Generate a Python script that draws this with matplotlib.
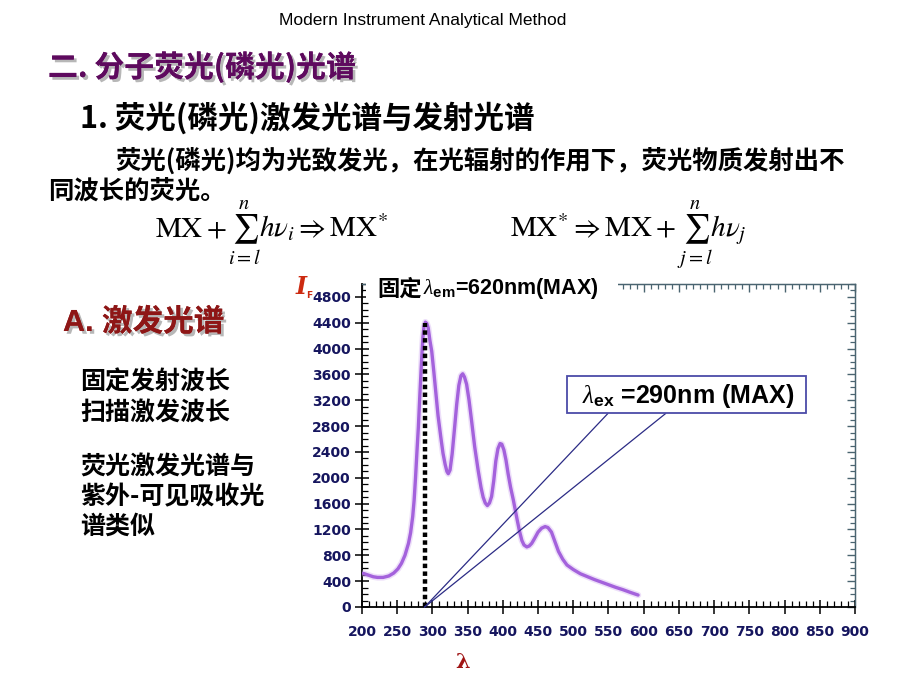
import matplotlib
matplotlib.use('Agg')
import matplotlib.pyplot as plt
import matplotlib.patheffects as pe
from matplotlib.patches import Rectangle
from matplotlib.ticker import MultipleLocator

# ---------------- data ----------------
wavelength = [202, 210, 216, 222, 230, 238, 245, 251, 256, 261, 266, 269, 272, 274,
              276, 278, 280, 282, 283.5, 285, 286.5, 288, 290, 292, 294, 296.5, 299,
              302, 305, 308, 312, 315, 318, 320.5, 322.5, 325, 328, 331, 334.5, 337.5,
              340.5, 343, 345.5, 348.5, 352, 355.5, 360, 365, 369, 372, 375, 378, 381,
              384, 387, 390, 393, 396, 398.5, 401.5, 404.5, 407.5, 411, 415, 418,
              420.5, 423.5, 427, 430, 434, 437.5, 441, 445, 450, 455, 460, 464, 469,
              474, 479, 485, 491, 500, 510, 520, 530, 540, 550, 560, 570, 580, 592]
intensity = [520, 490, 468, 458, 458, 480, 525, 590, 675, 800, 985, 1150, 1400, 1650,
             2000, 2400, 2780, 3250, 3580, 3900, 4180, 4340, 4410, 4390, 4320, 4120, 3960,
             3640, 3300, 2960, 2620, 2380, 2210, 2100, 2063, 2120, 2370, 2720, 3140, 3430,
             3580, 3610, 3560, 3450, 3200, 2890, 2480, 2110, 1850, 1700, 1610, 1570, 1610,
             1710, 1950, 2260, 2450, 2530, 2520, 2430, 2270, 2060, 1850, 1650, 1480,
             1340, 1180, 1030, 960, 930, 945, 985, 1060, 1160, 1220, 1245, 1230, 1160,
             1010, 860, 740, 650, 580, 515, 470, 425, 385, 345, 305, 270, 230, 185]
x_ticks = list(range(200, 901, 50))
y_ticks = list(range(0, 4801, 400))
ex_max_wl = 290
ex_max_int = 4400

W, H = 920, 690

plt.rcParams['mathtext.fontset'] = 'custom'
plt.rcParams['mathtext.rm'] = 'Liberation Sans:bold'
plt.rcParams['mathtext.it'] = 'Liberation Serif:italic'
plt.rcParams['mathtext.bf'] = 'Liberation Sans:bold'

CJK = ['Noto Sans CJK SC', 'DejaVu Sans']
MIX = ['Liberation Sans', 'Noto Sans CJK SC', 'DejaVu Sans']

fig = plt.figure(figsize=(W / 100, H / 100), dpi=100)
fig.patch.set_facecolor('white')


def fx(px):
    return px / W


def fy(py):
    return 1 - py / H


# ---------------- chart ----------------
ax = fig.add_axes([fx(362), fy(607), (855 - 362) / W, (607 - 284) / H])
ax.set_xlim(200, 900)
ax.set_ylim(0, 5000)

ax.plot(wavelength, intensity, color='#d2b0f2', lw=4.6, alpha=0.4,
        solid_capstyle='round', zorder=3)
ax.plot(wavelength, intensity, color='#a462dc', lw=2.4, solid_capstyle='round',
        zorder=4)
ax.plot([ex_max_wl, ex_max_wl], [0, ex_max_int], color='black', lw=3.2,
        linestyle=(0, (1, 0.75)), dash_capstyle='butt', zorder=5)

ax.set_xticks(x_ticks)
ax.set_yticks(y_ticks)
ax.xaxis.set_minor_locator(MultipleLocator(10))
ax.yaxis.set_minor_locator(MultipleLocator(100))
navy = '#15155e'
ax.tick_params(axis='both', which='major', direction='inout', length=10, width=1.1,
               colors='black', labelcolor=navy, labelsize=10, pad=3)
ax.tick_params(axis='both', which='minor', direction='in', length=4, width=0.9,
               colors='black')
for lab in ax.get_xticklabels() + ax.get_yticklabels():
    lab.set_fontfamily('DejaVu Sans')
    lab.set_fontweight('bold')
ax.tick_params(axis='x', pad=8)

for s in ['left', 'bottom']:
    ax.spines[s].set_linewidth(1.3)
    ax.spines[s].set_color('black')
for s in ['top', 'right']:
    ax.spines[s].set_linewidth(1.0)
    ax.spines[s].set_color('#4a6470')

sec_x = ax.secondary_xaxis('top')
sec_x.set_xticks(x_ticks)
sec_x.xaxis.set_minor_locator(MultipleLocator(10))
sec_x.tick_params(which='major', direction='in', length=6, width=1.0,
                  colors='#4a6470', labeltop=False)
sec_x.tick_params(which='minor', direction='in', length=3.5, width=0.9,
                  colors='#4a6470')
sec_x.spines['top'].set_color('#4a6470')
sec_y = ax.secondary_yaxis('right')
sec_y.set_yticks(y_ticks)
sec_y.yaxis.set_minor_locator(MultipleLocator(100))
sec_y.tick_params(which='major', direction='in', length=6, width=1.0,
                  colors='#4a6470', labelright=False)
sec_y.tick_params(which='minor', direction='in', length=3.5, width=0.9,
                  colors='#4a6470')
sec_y.spines['right'].set_color('#4a6470')

# annotation lines to the label box
for tx in (549, 631):
    ax.plot([ex_max_wl - 1, tx], [0, 2994], color='#2b2b85', lw=0.9, zorder=6,
            clip_on=False)

# white patch behind the top-left label (hides top spine there)
fig.patches.append(Rectangle((fx(366), fy(301)), (618 - 366) / W, 26 / H,
                             transform=fig.transFigure, facecolor='white',
                             edgecolor='none', zorder=2))
fig.text(fx(377), fy(289), '固定', family=CJK, fontweight='bold', fontsize=16,
         color='black', va='center', ha='left', zorder=3)
fig.text(fx(423), fy(289), '$\\lambda_{\\mathrm{em}}$=620nm(MAX)',
         family='Liberation Sans', fontweight='bold', fontsize=15.5, color='black',
         va='center', ha='left', zorder=3)

# label box
fig.patches.append(Rectangle((fx(567), fy(413)), (806 - 567) / W, (413 - 376) / H,
                             transform=fig.transFigure, facecolor='white',
                             edgecolor='#4b4ba8', lw=1.3, zorder=2))
fig.text(fx(582), fy(396), '$\\lambda_{\\mathrm{ex}}$ =290nm (MAX)',
         family='Liberation Sans', fontweight='bold', fontsize=18, color='black',
         va='center', ha='left', zorder=3)

# axis labels
fig.text(fx(301), fy(287), 'I', family='DejaVu Serif', style='italic',
         fontweight='bold', fontsize=17, color='#cc2a10', ha='center', va='center')
fig.text(fx(309), fy(295), 'F', family='DejaVu Sans', fontweight='bold',
         fontsize=6.5, color='#cc2a10', ha='center', va='center')
fig.text(fx(463), fy(662), 'λ', family='DejaVu Serif', fontweight='bold',
         fontsize=15, color='#a01515', ha='center', va='center')

# ---------------- slide text ----------------
fig.text(fx(423), fy(20), 'Modern Instrument Analytical Method', family='Liberation Sans',
         fontsize=12.5, color='black', ha='center', va='center')

shadow = [pe.withSimplePatchShadow(offset=(2, -2), shadow_rgbFace='#888888', alpha=0.6),
          pe.Normal()]
fig.text(fx(48), fy(67), '二. 分子荧光(磷光)光谱', family=CJK, fontweight='bold',
         fontsize=21.5, color='#5e0a5e', ha='left', va='center', path_effects=shadow)
fig.text(fx(80), fy(118), '1. 荧光(磷光)激发光谱与发射光谱', family=CJK,
         fontweight='bold', fontsize=22, color='black', ha='left', va='center')
fig.text(fx(115), fy(161), '荧光(磷光)均为光致发光，在光辐射的作用下，荧光物质发射出不',
         family=CJK, fontweight='bold', fontsize=18.3, color='black', ha='left',
         va='center')
fig.text(fx(48), fy(192), '同波长的荧光。', family=CJK, fontweight='bold', fontsize=18.3,
         color='black', ha='left', va='center')

fsize = 21
base = fy(237)
fig.text(fx(155), base, r'$\mathrm{MX}+$', math_fontfamily='stix', fontsize=fsize,
         color='black', ha='left', va='baseline')
fig.text(fx(228), base, r'$\sum_{i=l}^{n}h\nu_{i}\Rightarrow\mathrm{MX}^{*}$',
         math_fontfamily='stix', fontsize=fsize, color='black', ha='left',
         va='baseline')
fig.text(fx(510), base, r'$\mathrm{MX}^{*}\Rightarrow\mathrm{MX}+\sum_{j=l}^{n}h\nu_{j}$',
         math_fontfamily='stix', fontsize=fsize, color='black', ha='left',
         va='baseline')

fig.text(fx(63), fy(323), 'A. 激发光谱', family=MIX, fontweight='bold', fontsize=22,
         color='#8e1616', ha='left', va='center', path_effects=shadow)

left_lines = [('固定发射波长', 383), ('扫描激发波长', 413), ('荧光激发光谱与', 467),
              ('紫外-可见吸收光', 497), ('谱类似', 527)]
for txt, py in left_lines:
    fig.text(fx(80), fy(py), txt, family=CJK, fontweight='bold', fontsize=18,
             color='black', ha='left', va='center')

fig.savefig('out.png', dpi=100, facecolor='white')
